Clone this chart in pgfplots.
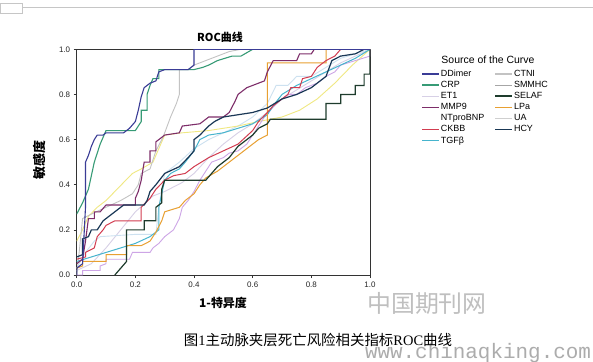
\documentclass[border=0pt]{standalone}
\usepackage{pgfplots}
\pgfplotsset{compat=1.18}
\usepackage{fontspec}
\setmainfont{Liberation Sans}
\newfontfamily\cjk{Noto Sans CJK SC}
\newfontfamily\mono{Liberation Mono}
\newfontfamily\serif{Liberation Serif}
\definecolor{cDD}{RGB}{58,60,150}
\definecolor{cCRP}{RGB}{55,155,118}
\definecolor{cET}{RGB}{215,208,230}
\definecolor{cMMP}{RGB}{125,45,105}
\definecolor{cNT}{RGB}{205,225,240}
\definecolor{cCK}{RGB}{210,60,80}
\definecolor{cTGF}{RGB}{70,180,205}
\definecolor{cCT}{RGB}{195,195,195}
\definecolor{cSM}{RGB}{205,165,230}
\definecolor{cSE}{RGB}{30,60,45}
\definecolor{cLP}{RGB}{232,160,50}
\definecolor{cUA}{RGB}{240,232,130}
\definecolor{cHCY}{RGB}{25,55,85}
\begin{document}
\begin{tikzpicture}[x=1bp,y=1bp]
\useasboundingbox (0,0) rectangle (593,361);
\fill[white] (0,0) rectangle (593,361);
\draw[gray!45,line width=0.6bp] (0,348) rectangle (22,358);
\draw[gray!45,line width=0.6bp] (22,353.5) -- (593,353.5);
\begin{axis}[
  at={(76.7bp,86bp)}, anchor=south west, scale only axis,
  width=293.3bp, height=225.7bp,
  xmin=0, xmax=1, ymin=0, ymax=1,
  xtick={0,0.2,0.4,0.6,0.8,1}, ytick={0,0.2,0.4,0.6,0.8,1},
  xticklabel style={/pgf/number format/.cd,fixed,fixed zerofill,precision=1},
  yticklabel style={/pgf/number format/.cd,fixed,fixed zerofill,precision=1},
  /pgf/number format/assume math mode=true,
  tick label style={font=\fontsize{8}{9}\selectfont, text=black!85},
  xtick pos=bottom, ytick pos=left, tick align=outside,
  major tick length=3bp,
  axis line style={line width=0.8bp, black!80},
  every tick/.style={black!80, line width=0.6bp},
  legend columns=2,
  legend cell align=left,
  legend style={at={(1.164,0.925)}, anchor=north west, draw=none, fill=none,
    font=\fontsize{9}{10}\selectfont, row sep=0pt,
    nodes={inner sep=1.2bp, text height=6.8bp, text depth=1.9bp},
    /tikz/every even column/.append style={column sep=9bp}},
  legend image code/.code={\draw[#1] (0bp,0bp) -- (17bp,0bp);},
]
% ET1 (pale)
\addplot[cET, line width=0.9bp, forget plot] coordinates {(0,0.02)(0.05,0.05)(0.1,0.12)(0.15,0.2)(0.2,0.28)(0.26,0.35)(0.3,0.37)(0.36,0.41)(0.4,0.45)(0.45,0.52)(0.5,0.58)(0.55,0.63)(0.6,0.67)(0.65,0.72)(0.7,0.78)(0.75,0.82)(0.8,0.86)(0.85,0.9)(0.9,0.94)(0.95,0.97)(1,1)};
% NTproBNP (very pale blue)
\addplot[cNT, line width=0.9bp, forget plot] coordinates {(0,0.03)(0.03,0.1)(0.06,0.15)(0.08,0.17)(0.2,0.18)(0.27,0.18)(0.28,0.3)(0.29,0.38)(0.3,0.45)(0.35,0.5)(0.4,0.56)(0.45,0.6)(0.5,0.63)(0.55,0.66)(0.6,0.7)(0.65,0.76)(0.68,0.84)(0.72,0.84)(0.75,0.88)(0.8,0.88)(0.85,0.92)(0.9,0.96)(0.95,0.98)(1,1)};
% UA (yellow)
\addplot[cUA, line width=0.9bp, forget plot] coordinates {(0,0.15)(0.02,0.2)(0.04,0.26)(0.07,0.3)(0.1,0.33)(0.13,0.37)(0.16,0.41)(0.19,0.45)(0.22,0.47)(0.26,0.5)(0.28,0.56)(0.3,0.62)(0.36,0.63)(0.45,0.64)(0.55,0.66)(0.62,0.68)(0.7,0.7)(0.76,0.73)(0.82,0.78)(0.88,0.85)(0.94,0.93)(1,1)};
% CTNI (light grey)
\addplot[cCT, line width=0.9bp, forget plot] coordinates {(0,0)(0.01,0.12)(0.02,0.25)(0.05,0.27)(0.1,0.3)(0.15,0.33)(0.19,0.36)(0.21,0.4)(0.22,0.45)(0.25,0.47)(0.27,0.55)(0.29,0.6)(0.3,0.63)(0.32,0.7)(0.34,0.76)(0.35,0.8)(0.35,0.91)(0.38,0.91)(0.4,0.93)(0.44,0.95)(0.48,0.97)(0.52,0.99)(0.56,1)(1,1)};
% SMMHC (lavender)
\addplot[cSM, line width=0.9bp, forget plot] coordinates {(0,0)(0.02,0)(0.02,0.02)(0.08,0.02)(0.08,0.04)(0.1,0.05)(0.1,0.07)(0.18,0.07)(0.19,0.1)(0.25,0.1)(0.26,0.12)(0.28,0.14)(0.3,0.17)(0.33,0.2)(0.35,0.25)(0.36,0.3)(0.38,0.33)(0.4,0.37)(0.42,0.42)(0.44,0.46)(0.46,0.5)(0.5,0.52)(0.52,0.54)(0.55,0.55)(0.58,0.58)(0.6,0.62)(0.62,0.66)(0.64,0.7)(0.66,0.73)(0.68,0.76)(0.7,0.78)(0.72,0.8)(0.75,0.8)(0.78,0.83)(0.82,0.85)(0.85,0.88)(0.88,0.9)(0.9,0.93)(0.95,0.95)(1,0.97)(1,1)};
% TGFb (cyan)
\addplot[cTGF, line width=1bp, forget plot] coordinates {(0,0.06)(0.05,0.08)(0.1,0.1)(0.15,0.12)(0.2,0.14)(0.25,0.17)(0.28,0.2)(0.28,0.3)(0.3,0.42)(0.32,0.45)(0.35,0.47)(0.37,0.5)(0.4,0.55)(0.42,0.6)(0.45,0.62)(0.5,0.63)(0.55,0.65)(0.6,0.67)(0.65,0.71)(0.67,0.75)(0.7,0.8)(0.75,0.84)(0.8,0.87)(0.85,0.9)(0.9,0.93)(0.95,0.96)(1,1)};
% LPa (orange)
\addplot[cLP, line width=1bp, forget plot] coordinates {(0,0.03)(0.02,0.04)(0.02,0.06)(0.1,0.06)(0.1,0.09)(0.17,0.09)(0.17,0.13)(0.22,0.13)(0.25,0.15)(0.27,0.19)(0.29,0.24)(0.3,0.28)(0.35,0.3)(0.37,0.33)(0.4,0.36)(0.42,0.4)(0.44,0.43)(0.48,0.46)(0.52,0.5)(0.55,0.53)(0.58,0.56)(0.62,0.6)(0.65,0.62)(0.65,0.94)(0.85,0.94)(0.85,1)(1,1)};
% CKBB (red)
\addplot[cCK, line width=1bp, forget plot] coordinates {(0,0.07)(0.03,0.08)(0.03,0.1)(0.06,0.12)(0.07,0.17)(0.09,0.2)(0.1,0.22)(0.13,0.24)(0.22,0.24)(0.22,0.3)(0.25,0.34)(0.27,0.38)(0.3,0.42)(0.33,0.44)(0.37,0.45)(0.4,0.48)(0.45,0.52)(0.5,0.55)(0.55,0.58)(0.6,0.64)(0.62,0.68)(0.65,0.72)(0.67,0.75)(0.7,0.78)(0.72,0.8)(0.73,0.83)(0.76,0.83)(0.77,0.87)(0.8,0.88)(0.82,0.92)(0.85,0.95)(0.88,0.97)(0.9,1)(1,1)};
% MMP9 (purple)
\addplot[cMMP, line width=1.1bp, forget plot] coordinates {(0,0.05)(0.02,0.07)(0.03,0.15)(0.04,0.25)(0.06,0.25)(0.06,0.28)(0.08,0.28)(0.1,0.31)(0.2,0.31)(0.2,0.34)(0.21,0.37)(0.22,0.42)(0.23,0.5)(0.25,0.5)(0.25,0.55)(0.27,0.55)(0.27,0.59)(0.3,0.62)(0.35,0.63)(0.36,0.66)(0.42,0.67)(0.45,0.7)(0.5,0.7)(0.52,0.72)(0.54,0.77)(0.55,0.8)(0.58,0.83)(0.62,0.85)(0.64,0.86)(0.65,0.9)(0.67,0.95)(0.75,0.95)(0.76,0.98)(0.8,0.98)(0.81,1)(1,1)};
% SELAF (dark green-black)
\addplot[cSE, line width=1.2bp, forget plot] coordinates {(0.13,0)(0.17,0.06)(0.17,0.2)(0.23,0.2)(0.23,0.24)(0.27,0.24)(0.27,0.3)(0.29,0.32)(0.29,0.38)(0.3,0.42)(0.44,0.42)(0.46,0.45)(0.48,0.48)(0.5,0.5)(0.52,0.52)(0.55,0.57)(0.58,0.6)(0.6,0.62)(0.62,0.65)(0.65,0.67)(0.66,0.69)(0.85,0.69)(0.85,0.76)(0.9,0.76)(0.9,0.8)(0.95,0.8)(0.95,0.84)(0.98,0.84)(0.98,0.89)(1,0.89)(1,1)};
% HCY (dark navy)
\addplot[cHCY, line width=1.2bp, forget plot] coordinates {(0,0.08)(0.02,0.09)(0.02,0.16)(0.04,0.17)(0.05,0.2)(0.07,0.2)(0.09,0.24)(0.12,0.27)(0.15,0.3)(0.16,0.31)(0.23,0.31)(0.24,0.33)(0.25,0.37)(0.27,0.4)(0.3,0.45)(0.35,0.48)(0.38,0.52)(0.4,0.55)(0.4,0.6)(0.42,0.62)(0.45,0.66)(0.47,0.68)(0.5,0.7)(0.55,0.71)(0.6,0.72)(0.65,0.74)(0.7,0.78)(0.75,0.8)(0.8,0.83)(0.85,0.88)(0.87,0.95)(0.9,0.97)(0.95,0.98)(0.98,1)(1,1)};
% CRP (green)
\addplot[cCRP, line width=1.1bp, forget plot] coordinates {(0,0.27)(0.02,0.32)(0.04,0.38)(0.05,0.44)(0.06,0.5)(0.08,0.58)(0.1,0.64)(0.2,0.64)(0.22,0.68)(0.22,0.73)(0.24,0.73)(0.24,0.8)(0.25,0.84)(0.26,0.87)(0.28,0.87)(0.28,0.91)(0.4,0.91)(0.43,0.92)(0.45,0.93)(0.48,0.95)(0.53,0.97)(0.56,0.97)(0.6,1)(1,1)};
% DDimer (navy)
\addplot[cDD, line width=1.1bp, forget plot] coordinates {(0,0)(0,0.03)(0.02,0.05)(0.03,0.3)(0.03,0.5)(0.04,0.53)(0.05,0.57)(0.06,0.6)(0.07,0.62)(0.09,0.62)(0.1,0.63)(0.16,0.63)(0.18,0.65)(0.2,0.68)(0.21,0.73)(0.22,0.79)(0.23,0.83)(0.25,0.85)(0.27,0.86)(0.28,0.9)(0.3,0.91)(0.38,0.91)(0.4,0.93)(0.4,1)(1,1)};
% legend (row-wise, two columns)
\addlegendimage{cDD, line width=1.3bp}\addlegendentry{DDimer}
\addlegendimage{cCT, line width=1.1bp}\addlegendentry{CTNI}
\addlegendimage{cCRP, line width=1.3bp}\addlegendentry{CRP}
\addlegendimage{gray!70, line width=1.1bp}\addlegendentry{SMMHC}
\addlegendimage{cET, line width=1.1bp}\addlegendentry{ET1}
\addlegendimage{cSE, line width=1.4bp}\addlegendentry{SELAF}
\addlegendimage{cMMP, line width=1.4bp}\addlegendentry{MMP9}
\addlegendimage{cLP, line width=1.2bp}\addlegendentry{LPa}
\addlegendimage{white, line width=1bp}\addlegendentry{NTproBNP}
\addlegendimage{cCT!80, line width=1.1bp}\addlegendentry{UA}
\addlegendimage{cCK, line width=1.4bp}\addlegendentry{CKBB}
\addlegendimage{cHCY, line width=1.4bp}\addlegendentry{HCY}
\addlegendimage{cTGF, line width=1.2bp}\addlegendentry{TGFβ}
\end{axis}
\node[font=\cjk\bfseries\fontsize{11}{12}\selectfont] at (220,324) {ROC曲线};
\node[font=\cjk\bfseries\fontsize{13}{14}\selectfont, rotate=90] at (40,201) {敏感度};
\node[font=\cjk\bfseries\fontsize{12}{13}\selectfont] at (223,58) {1-特异度};
\node[font=\fontsize{10.5}{12}\selectfont] at (488,301) {Source of the Curve};
\node[font=\cjk\fontsize{24}{26}\selectfont, text=gray!50] at (427,58) {中国期刊网};
\node[font=\mono\fontsize{21}{22}\selectfont, text=gray!65, anchor=base] at (478,3) {www.chinaqking.com};
\node[font=\cjk\fontsize{14.5}{16}\selectfont] at (318,21) {图\serif 1\cjk 主动脉夹层死亡风险相关指标\serif ROC\cjk 曲线};
\end{tikzpicture}
\end{document}
